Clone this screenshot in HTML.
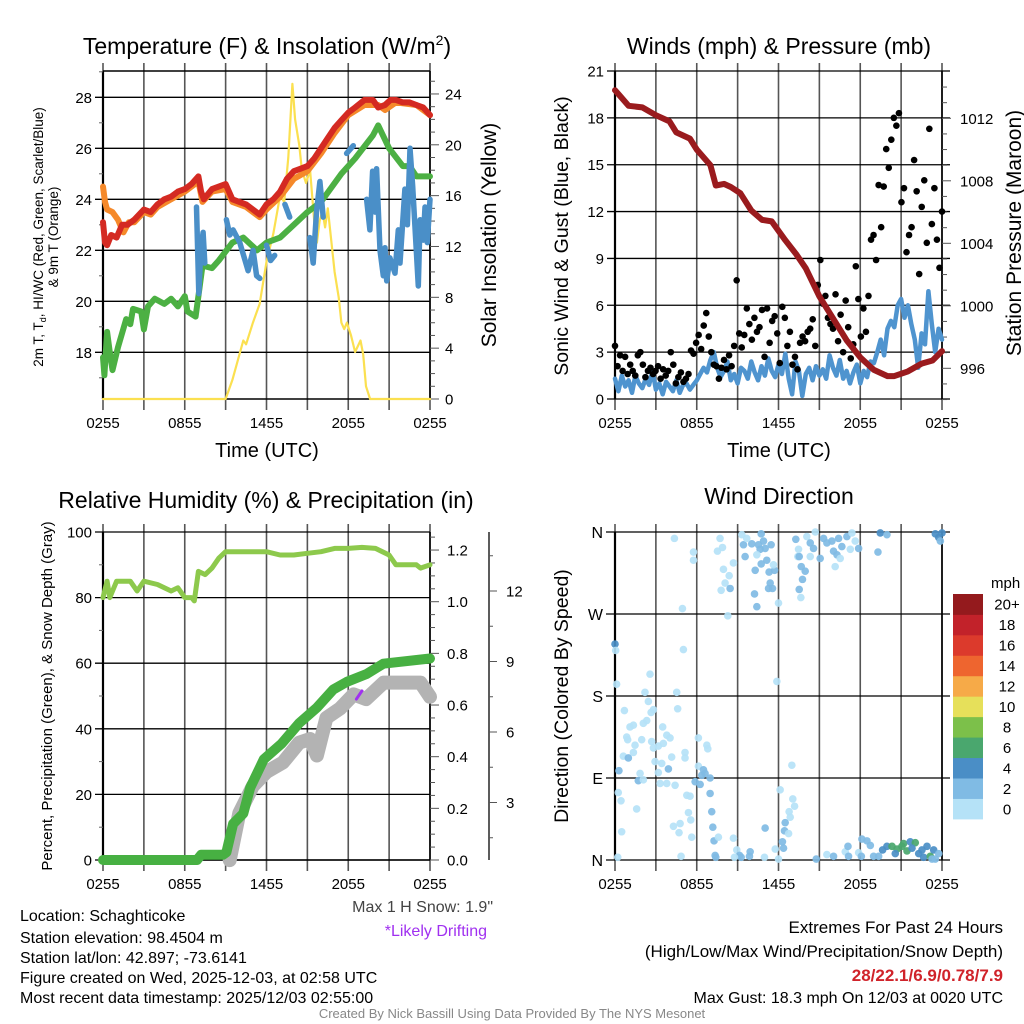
<!DOCTYPE html>
<html><head><meta charset="utf-8"><style>
html,body{margin:0;padding:0;background:#fff;}
svg{display:block;font-family:"Liberation Sans",Arial,sans-serif;}
</style></head><body>
<svg id="chart" width="1024" height="1024" viewBox="0 0 1024 1024" xmlns="http://www.w3.org/2000/svg">
<rect x="0" y="0" width="1024" height="1024" fill="#fff"/>
<text x="267" y="54" font-size="23" text-anchor="middle">Temperature (F) &amp; Insolation (W/m<tspan dy="-9" font-size="14">2</tspan><tspan dy="9">)</tspan></text>
<text x="779" y="54" font-size="23" text-anchor="middle">Winds (mph) &amp; Pressure (mb)</text>
<text x="266" y="508" font-size="23" text-anchor="middle">Relative Humidity (%) &amp; Precipitation (in)</text>
<text x="779" y="504" font-size="23" text-anchor="middle">Wind Direction</text>

<text transform="translate(43,237) rotate(-90)" font-size="13.5" text-anchor="middle">2m T, T<tspan dy="3" font-size="9">d</tspan><tspan dy="-3">, HI/WC (Red, Green, Scarlet/Blue)</tspan></text>
<text transform="translate(58,237) rotate(-90)" font-size="13.5" text-anchor="middle">&amp; 9m T (Orange)</text>
<text transform="translate(496,235) rotate(-90)" font-size="21" text-anchor="middle">Solar Insolation (Yellow)</text>
<text x="267" y="457" font-size="20" text-anchor="middle">Time (UTC)</text>
<text x="779" y="457" font-size="20" text-anchor="middle">Time (UTC)</text>
<text transform="translate(568,236) rotate(-90)" font-size="19.5" text-anchor="middle">Sonic Wind &amp; Gust (Blue, Black)</text>
<text transform="translate(1021,233) rotate(-90)" font-size="21" text-anchor="middle">Station Pressure (Maroon)</text>
<text transform="translate(52,696) rotate(-90)" font-size="15" text-anchor="middle">Percent, Precipitation (Green), &amp; Snow Depth (Gray)</text>
<text transform="translate(568,696) rotate(-90)" font-size="19.5" text-anchor="middle">Direction (Colored By Speed)</text>

<g font-size="16">
<text x="20" y="921">Location: Schaghticoke</text>
<text x="20" y="943">Station elevation: 98.4504 m</text>
<text x="20" y="963">Station lat/lon: 42.897; -73.6141</text>
<text x="20" y="983">Figure created on Wed, 2025-12-03, at 02:58 UTC</text>
<text x="20" y="1003">Most recent data timestamp: 2025/12/03 02:55:00</text>
</g>
<text x="493" y="912" font-size="16" fill="#444" text-anchor="end">Max 1 H Snow: 1.9"</text>
<text x="487" y="936" font-size="16" fill="#a030f0" text-anchor="end">*Likely Drifting</text>
<text x="1003" y="933" font-size="17" text-anchor="end">Extremes For Past 24 Hours</text>
<text x="1003" y="957" font-size="17" text-anchor="end">(High/Low/Max Wind/Precipitation/Snow Depth)</text>
<text x="1003" y="981" font-size="17" font-weight="bold" fill="#d0232a" text-anchor="end">28/22.1/6.9/0.78/7.9</text>
<text x="1003" y="1003" font-size="16" text-anchor="end">Max Gust: 18.3 mph On 12/03 at 0020 UTC</text>
<text x="512" y="1018" font-size="13" fill="#888" text-anchor="middle">Created By Nick Bassill Using Data Provided By The NYS Mesonet</text>
</svg>
<script>
// ---------- data ----------
const timeLabels = ["0255","0855","1455","2055","0255"];
const tempTicks = [18,20,22,24,26,28];
const solarTicks = [0,4,8,12,16,20,24];
const windTicks = [0,3,6,9,12,15,18,21];
const pressureTicks = [996,1000,1004,1008,1012];
const rhTicks = [0,20,40,60,80,100];
const precipTicks = ["0.0","0.2","0.4","0.6","0.8","1.0","1.2"];
const snowTicks = [3,6,9,12];
const dirTicks = ["N","E","S","W","N"];
const speedBins = ["0","2","4","6","8","10","12","14","16","18","20+"];
const speedColors = ["#b5e2f7","#80bbe4","#4a8ec6","#4aa76e","#7cc04a","#e6e05a","#f6aa48","#ee652f","#dc3a2c","#c2222a","#941a1d"];

const tHours = [0,0.15,0.3,0.6,1,1.4,1.8,2.3,3,3.5,4,4.5,5,5.5,6,6.5,7,7.2,7.4,8,8.5,9,9.5,10,10.5,11,11.5,12,12.5,13,13.5,14,14.5,15,15.5,16,16.5,17,17.5,18,18.5,19.2,19.8,20.2,20.7,21.1,21.5,22,22.5,23,23.5,24];
const tValues = [23.1,22.3,22.2,22.6,22.5,23.0,23.0,23.2,23.6,23.5,23.8,24.0,24.1,24.3,24.4,24.6,24.9,24.3,24.0,24.4,24.5,24.6,24.0,23.9,23.8,23.6,23.4,23.8,24.0,24.3,24.8,25.1,25.2,25.3,25.6,26.0,26.4,26.8,27.1,27.4,27.6,27.9,27.9,27.6,27.7,27.9,27.9,27.8,27.8,27.7,27.6,27.3];
const t9Hours = [0,0.15,0.3,0.7,1.1,1.5,1.9,2.3,3,3.5,4,5,6,7,7.3,8,9,9.5,10.5,11.5,12,13,14,15,16,17,18,19.2,20.2,20.7,21.5,23,24];
const t9Values = [24.5,23.9,23.6,23.5,23.2,22.7,23.1,23.1,23.5,23.4,23.7,24.0,24.3,24.7,23.9,24.3,24.4,23.9,23.7,23.3,23.6,24.1,24.8,25.1,25.8,26.6,27.3,27.7,27.7,27.5,27.8,27.7,27.3];
const tdHours = [0,0.1,0.3,0.5,0.7,1.1,1.7,2,2.2,2.8,3,3.3,3.8,4.5,5,5.5,6,6.2,6.8,7,7.3,8,8.5,9.5,10.3,11.3,12,13,14,15,16,17.5,18.5,19.8,20.2,21,22,22.5,23,24];
const tdValues = [17.8,17.1,18.8,18.0,17.3,18.2,19.3,19.1,19.7,19.6,18.9,19.8,20.1,19.9,20.1,19.8,20.2,19.6,19.4,20.2,21.4,21.3,21.6,22.3,22.5,22.0,22.3,22.5,23.0,23.5,23.9,25.0,25.6,26.5,26.9,26.0,25.3,25.3,24.9,24.9];
const hiHours = [6.86,7.03,7.18,7.35,7.47,null,9.06,9.31,9.55,10.04,10.65,11.02,11.27,11.51,null,12.0,12.3,12.6,null,13.35,13.7,null,15.18,15.43,15.67,15.92,16.16,null,17.88,18.37,null,19.35,19.59,19.79,19.96,20.08,20.33,20.57,20.7,20.82,21.06,21.43,21.67,21.8,22.16,22.34,22.53,22.73,23.14,23.27,23.51,23.63,23.8,24.0];
const hiValues = [23.7,20.3,22.0,22.7,21.5,null,23.2,22.6,22.8,22.3,21.2,22.0,21.0,20.9,null,22.2,21.6,21.8,null,23.8,23.3,null,22.5,21.5,23.5,24.7,23.3,null,25.8,26.1,null,24.0,22.8,25.1,23.5,25.2,22.0,21.0,22.1,20.8,21.7,21.1,22.8,21.5,24.4,23.0,26.0,24.5,20.6,23.2,22.4,23.7,22.3,24.0];
const solarHours = [0,9.0,9.5,10.3,10.5,11,11.5,12,12.5,13,13.3,13.6,13.9,14.1,14.4,14.6,14.9,15.2,15.5,15.7,15.9,16.1,16.3,16.5,16.8,17,17.3,17.5,17.7,17.9,18.2,18.5,18.9,19.1,19.3,19.6,24];
const solarValues = [0,0,1.5,4.6,4.3,6,7.5,10.8,13,16,15.5,19,24.8,22,20,18,17,18,14,12.3,14,14.8,13.5,15,12,10,8,6,5.5,6,5,3.7,4.6,3.5,1,0,0];

const pressHours = [0,0.3,1,2,3,4,4.5,5.5,6,7,7.4,8,8.5,9.2,10,10.8,11.5,12.5,13.3,14,15,16,17,18,19,20,20.5,21.5,22.5,23.3,24];
const pressValues = [1013.8,1013.5,1012.8,1012.7,1012.2,1011.8,1011.1,1010.7,1010.0,1009.0,1007.7,1007.8,1007.6,1007.2,1006.1,1005.5,1005.4,1004.2,1003.3,1002.4,1000.6,999.2,997.8,996.7,995.9,995.5,995.5,995.8,996.3,996.5,997.1];
const windValues = [1.3,0.5,1.5,0.8,1.2,0.4,1.5,1.0,0.7,1.3,0.9,1.8,0.6,1.0,0.3,1.1,0.8,0.5,1.2,0.4,0.9,1.0,0.6,0.9,
 1.2,1.6,2.0,1.7,2.5,3.0,2.0,1.4,1.8,2.4,1.2,1.6,1.0,2.0,1.8,1.3,2.4,1.7,1.2,2.1,1.5,2.6,1.8,1.4,
 2.2,1.6,2.9,1.3,0.3,2.4,1.8,0.2,1.6,2.0,1.2,2.1,1.5,1.9,1.3,2.8,2.0,1.5,2.5,1.3,1.8,1.0,1.7,2.2,
 1.0,1.8,1.4,2.4,2.3,3.0,3.8,2.8,4.5,5.0,4.6,6.0,6.4,5.2,6.0,4.8,3.8,2.0,4.2,3.5,6.9,4.8,3.0,4.5,3.8];
const gustValues = [3.4,2.1,2.8,1.8,2.7, 1.6,2.2,1.8,1.5,2.8, 3.0,2.2,1.4,1.8,2.0, 1.6,1.8,2.1,1.3,1.9,
 1.5,1.8,3.0,2.2,1.0, 1.4,1.7,1.1,1.3,1.6, 3.1,2.9,3.6,4.1,3.2, 4.7,5.5,4.0,3.0,2.2,
 2.1,1.3,2.0,2.5,1.9, 2.8,2.1,3.4,7.6,4.2, 3.3,4.1,5.8,4.8,3.8, 5.2,4.3,4.6,5.7,2.7,
 5.8,3.6,5.0,5.3,4.2, 2.3,5.9,5.2,3.4,4.3, 2.2,2.7,1.9,3.6,4.0, 3.7,4.3,4.5,5.1,3.4,
 7.3,8.9,6.1,6.6,5.2, 4.8,4.5,6.7,3.7,5.4, 3.0,6.3,4.6,2.6,3.5, 8.5,6.4,4.0,5.8,4.3,
 6.6,10.2,10.5,8.9,13.7, 11.0,13.6,16.0,14.8,16.6, 18.0,17.5,18.3,12.6,13.5, 9.4,10.5,11.0,15.3,13.3,
 8.0,12.3,14.0,10.0,17.3,11.2,13.5,10.2,8.4,12.0];

const rhHours = [0,0.3,0.5,1,1.5,2,2.5,3,4,5,5.5,6,6.5,6.7,7,7.5,8,8.5,9,10,11,12,13,14,15,16,17,18,19,20,21,21.5,22,23,23.3,24];
const rhValues = [80,85,80,85,85,85,82,85,84,82,83,80,80,79,88,87,89,92,94,94,94,94,93,93,93.5,94,95,95,95.3,95,93,90,90,90,89,90];
const precipHours = [0,6.9,7.2,8.8,9.06,9.55,10.3,10.8,11.8,13.1,14.4,15.7,16.9,17.9,19.35,20.57,24];
const precipValues = [0,0,0.02,0.02,0.03,0.14,0.18,0.28,0.39,0.45,0.53,0.59,0.66,0.69,0.72,0.76,0.78];
const snowHours = [9.3,10.0,11.0,12.0,13.2,14.4,15.2,15.7,16.4,17.4,18.4,19.3,20.6,21.8,23.3,24];
const snowValues = [0.55,2.55,3.7,4.3,4.7,5.55,5.7,5.0,6.6,7.0,7.6,7.4,8.1,8.1,8.1,7.5];
const driftHours = [18.6,19.0];
const driftValues = [7.4,7.75];

const dirHours = [0.0,0.05,0.12,0.69,1.1,1.35,0.86,0.93,1.47,0.61,0.98,1.35,0.29,1.84,1.71,2.08,0.24,0.44,0.49,1.59,0.2,2.2,2.45,2.82,2.65,2.33,2.08,1.96,2.69,2.82,3.18,3.55,3.8,4.04,3.5,2.57,4.53,4.6,5.02,4.95,4.36,2.94,3.43,3.92,3.18,3.31,3.8,4.41,4.16,5.14,5.14,6.12,6.74,6.81,6.12,6.49,6.37,6.61,6.98,5.88,6.25,5.27,5.51,6.98,7.1,5.39,5.56,4.29,4.78,4.7,5.63,7.18,7.27,7.59,7.35,7.4,4.85,5.76,5.76,7.71,7.89,7.52,7.96,8.38,8.69,8.08,8.28,7.79,8.45,
9.31,9.43,9.55,10.04,9.67,10.73,10.9,10.53,10.65,11.02,11.46,10.41,11.14,10.73,10.29,11.31,11.71,11.63,11.39,11.27,11.56,10.24,10.41,12.0,11.88,12.98,12.12,13.05,13.18,12.78,12.86,12.49,12.44,12.74,12.29,12.37,11.76,11.02,8.69,8.94,9.14,9.26,9.92,9.87,10.97,12.0,8.77,13.42,13.52,13.67,13.96,13.76,13.52,13.64,13.27,13.47,
14.08,14.7,14.33,14.57,15.31,15.55,15.92,16.41,16.65,16.04,16.29,16.53,15.06,14.33,17.02,17.39,17.63,17.88,17.27,16.16,19.47,19.96,19.3,23.51,23.76,24.0,23.88,
14.77,15.55,16.04,16.9,17.1,17.14,17.88,18.12,18.49,18.74,18.08,18.98,19.35,19.64,19.96,20.33,20.7,21.06,21.18,21.43,21.67,22.04,21.8,22.29,22.65,22.9,23.14,23.39,23.51,23.76,20.57,22.53,23.27];
const dirDegrees = [237,230,193,164,146,148,135,132,126,114,112,118,98,95,87,88,74,65,31,56,3,184,174,165,162,153,150,132,130,123,125,128,137,134,146,204,184,166,231,276,353,108,106,100,96,84,84,82,113,118,112,134,126,122,103,99,93,95,90,86,83,71,70,73,53,52,44,37,40,30,25,36,21,25,5,3,4,338,329,353,343,339,319,312,326,304,268,296,298,
357,346,333,347,353,358,350,346,341,342,346,335,329,325,318,316,318,324,304,298,298,292,278,282,196,104,77,67,59,53,47,41,32,29,20,13,12,35,24,11,5,3,9,4,3,1,3,333,333,322,317,308,297,288,352,341,
355,360,348,342,353,348,350,353,344,339,335,331,331,333,355,359,350,342,341,322,359,357,338,358,354,359,350,
1,6,4,9,15,4,8,23,21,16,4,4,4,11,15,15,12,15,18,10,20,19,13,7,3,15,4,11,1,7,7,11,1];
const dirSpeeds = [5,1,1,1,1,1,1,1,1,1,3,1,3,1,3,1,1,1,1,1,1,1,1,1,1,1,1,1,1,1,1,1,1,1,1,1,1,1,1,1,1,1,1,3,1,1,1,1,1,1,1,1,1,1,1,3,3,3,3,3,3,1,1,3,3,1,1,1,1,1,1,3,3,1,3,3,1,1,1,1,1,1,1,1,1,1,1,1,3,
1,3,3,3,1,3,3,3,3,3,3,1,3,3,3,3,3,1,3,3,3,3,3,1,1,1,1,1,1,1,1,3,3,1,3,3,1,3,1,1,3,3,3,3,1,1,1,1,3,3,3,3,3,1,3,1,
1,1,3,3,3,3,3,3,3,3,3,1,3,1,3,1,1,3,1,1,5,3,3,5,5,5,3,
3,1,3,1,3,3,1,3,3,3,3,3,3,5,5,7,7,7,7,7,5,7,5,5,5,5,7,5,3,3,5,5,3];

// ---------- helpers ----------
const NS = 'http://www.w3.org/2000/svg';
const svg = document.getElementById('chart');
function mk(tag, attrs, parent) {
  const e = document.createElementNS(NS, tag);
  for (const k in attrs) e.setAttribute(k, attrs[k]);
  (parent || svg).appendChild(e);
  return e;
}
const W = 327, H = 328;
function xScale(x0, h) { return x0 + h * W / 24; }
function pathD(x0, hours, vals, yf) {
  let d = '', pen = false;
  for (let i = 0; i < hours.length; i++) {
    if (hours[i] === null || vals[i] === null) { pen = false; continue; }
    d += (pen ? 'L' : 'M') + xScale(x0, hours[i]).toFixed(1) + ' ' + yf(vals[i]).toFixed(1);
    pen = true;
  }
  return d;
}
function series(x0, hours, vals, yf, color, w, name) {
  const p = mk('path', {d: pathD(x0, hours, vals, yf), fill: 'none', stroke: color, 'stroke-width': w, 'stroke-linejoin': 'round', 'stroke-linecap': 'round'});
  
  
  return p;
}
function txt(x, y, s, size, anchor, name, fill) {
  const t = mk('text', {x: x, y: y, 'font-size': size, 'text-anchor': anchor || 'middle', fill: fill || '#000'});
  t.textContent = s;
  
  
  return t;
}
function lineEl(x1, y1, x2, y2, color, w, name) {
  const l = mk('line', {x1: x1, y1: y1, x2: x2, y2: y2, stroke: color, 'stroke-width': w});
  
  
  return l;
}
function panelBase(x0, y0, name) {
  const y1 = y0 + H;
  for (let i = 0; i <= 8; i++) {
    const x = xScale(x0, i * 3);
    lineEl(x, y0 - 8, x, y1 + 11, '#555', 1.6, name + '-vgrid');
  }
  for (let i = 0; i < timeLabels.length; i++) {
    txt(xScale(x0, i * 6), y1 + 29, timeLabels[i], 15, 'middle', name + '-x-tick-label');
  }
  lineEl(x0, y0, x0, y1, '#000', 2.2, name + '-left-axis');
  lineEl(x0 + W, y0, x0 + W, y1, '#000', 1.6, name + '-right-axis');
}

// ---------- Panel 1: temperature ----------
(function () {
  const x0 = 103, y0 = 71;
  const yT = t => 97.3 + (28 - t) * 25.5;
  const yS = v => 399 - v * 12.71;
  panelBase(x0, y0, 'temp');
  lineEl(x0, y0, x0 + W, y0, '#000', 1.4, 'temp-top-border');
  lineEl(x0, y0 + H, x0 + W, y0 + H, '#000', 1.4, 'temp-bottom-border');
  for (const t of tempTicks) {
    lineEl(x0 - 8, yT(t), x0 + W, yT(t), '#000', 1.3, 'temp-hgrid');
    txt(x0 - 11, yT(t) + 5.5, String(t), 15, 'end', 'temp-y-tick-label');
  }
  for (let t = 17; t <= 29; t += 2) lineEl(x0 - 4, yT(t), x0, yT(t), '#666', 1, 'temp-minor-tick');
  for (let v = 0; v <= 25; v++) {
    const major = v % 4 === 0;
    lineEl(x0 + W, yS(v), x0 + W + (major ? 9 : 5), yS(v), '#555', 1, 'solar-tick');
  }
  for (const v of solarTicks) txt(x0 + W + 15, yS(v) + 5.5, String(v), 15, 'start', 'solar-y-tick-label');
  series(x0, solarHours, solarValues, yS, '#fbe050', 2.2, 'solar-insolation-line');
  series(x0, tdHours, tdValues, yT, '#4cb043', 6, 'dewpoint-line');
  series(x0, t9Hours, t9Values, yT, '#f5892a', 6, 'temp-9m-line');
  series(x0, tHours, tValues, yT, '#d42a22', 6, 'temp-2m-line');
  series(x0, hiHours, hiValues, yT, '#4a8fc8', 5.5, 'heat-index-windchill-line');
})();

// ---------- Panel 2: wind & pressure ----------
(function () {
  const x0 = 615, y0 = 71;
  const yW = v => 399 - v * H / 21;
  const yP = p => 368.3 - (p - 996) * 15.625;
  panelBase(x0, y0, 'wind');
  for (const v of windTicks) {
    lineEl(x0 - 8, yW(v), x0 + W + 8, yW(v), '#000', 1.3, 'wind-hgrid');
    txt(x0 - 11, yW(v) + 5.5, String(v), 15, 'end', 'wind-y-tick-label');
  }
  for (let p = 994; p <= 1014; p++) {
    const major = p % 4 === 0;
    lineEl(x0 + W, yP(p), x0 + W + (major ? 9 : 5), yP(p), '#555', 1, 'pressure-tick');
  }
  for (const p of pressureTicks) txt(x0 + W + 18, yP(p) + 5.5, String(p), 15, 'start', 'pressure-y-tick-label');
  series(x0, windValues.map((v, i) => i * 0.25), windValues, yW, '#4f94cf', 4.5, 'sonic-wind-line');
  const n = gustValues.length;
  for (let i = 0; i < n; i++) {
    const c = mk('circle', {cx: xScale(x0, i * 24 / (n - 1)), cy: yW(gustValues[i]), r: 3.3, fill: '#000'});
    
    
  }
  series(x0, pressHours, pressValues, yP, '#9a1b1e', 6, 'station-pressure-line');
})();

// ---------- Panel 3: RH & precipitation ----------
(function () {
  const x0 = 103, y0 = 532;
  const yR = v => 860 - v * 3.28;
  const yPr = v => 860 - v * 258.3;
  const ySn = v => 873 - v * 23.5;
  panelBase(x0, y0, 'rh');
  lineEl(x0, y0 + H, x0 + W, y0 + H, '#000', 1.4, 'rh-bottom-border');
  for (const v of rhTicks) {
    lineEl(x0 - 8, yR(v), x0 + W, yR(v), '#000', 1.3, 'rh-hgrid');
    txt(x0 - 11, yR(v) + 5.5, String(v), 15, 'end', 'rh-y-tick-label');
  }
  for (let v = 10; v < 100; v += 20) lineEl(x0 - 4, yR(v), x0, yR(v), '#666', 1, 'rh-minor-tick');
  for (let i = 0; i <= 25; i++) {
    const v = i * 0.05;
    const major = i % 4 === 0;
    lineEl(x0 + W, yPr(v), x0 + W + (major ? 9 : 5), yPr(v), '#555', 1, 'precip-tick');
  }
  for (const s of precipTicks) txt(x0 + W + 17, yPr(parseFloat(s)) + 5.5, s, 15, 'start', 'precip-y-tick-label');
  lineEl(489, y0, 489, 860, '#333', 1.6, 'snow-axis');
  for (let v = 1.5; v <= 13.5; v += 1.5) {
    const major = v % 3 === 0;
    lineEl(489, ySn(v), 489 + (major ? 8 : 4), ySn(v), '#555', 1, 'snow-tick');
  }
  for (const v of snowTicks) txt(506, ySn(v) + 5.5, String(v), 15, 'start', 'snow-y-tick-label');
  series(x0, snowHours, snowValues, ySn, '#b3b3b3', 14, 'snow-depth-line');
  series(x0, precipHours, precipValues, yPr, '#47b042', 10, 'precipitation-line');
  series(x0, rhHours, rhValues, yR, '#8dc94c', 5, 'relative-humidity-line');
  series(x0, driftHours, driftValues, ySn, '#a030f0', 3, 'drifting-marker');
})();

// ---------- Panel 4: wind direction ----------
(function () {
  const x0 = 615, y0 = 532;
  const yD = d => 860 - d * H / 360;
  panelBase(x0, y0, 'dir');
  for (let i = 0; i < dirTicks.length; i++) {
    lineEl(x0 - 9, yD(i * 90), x0 + W + 8, yD(i * 90), '#000', 1.3, 'dir-hgrid');
    txt(x0 - 12, yD(i * 90) + 6, dirTicks[i], 16, 'end', 'dir-y-tick-label');
  }
  for (let i = 0; i < dirHours.length; i++) {
    const bin = Math.min(10, Math.floor(dirSpeeds[i] / 2));
    const c = mk('circle', {cx: xScale(x0, dirHours[i]), cy: yD(dirDegrees[i]), r: 3.8, fill: speedColors[bin], 'fill-opacity': 0.92});
    
    
  }
  txt(991, 588, 'mph', 15, 'start', 'colorbar-title');
  const bh = 225 / 11;
  for (let i = 0; i < speedBins.length; i++) {
    const y = 819 - (i + 1) * bh;
    const r = mk('rect', {x: 953, y: y, width: 30, height: bh + 0.4, fill: speedColors[i]});
    
    
    txt(1007, y + bh / 2 + 5.5, speedBins[i], 15, 'middle', 'colorbar-label');
  }
})();
</script>
</body></html>
